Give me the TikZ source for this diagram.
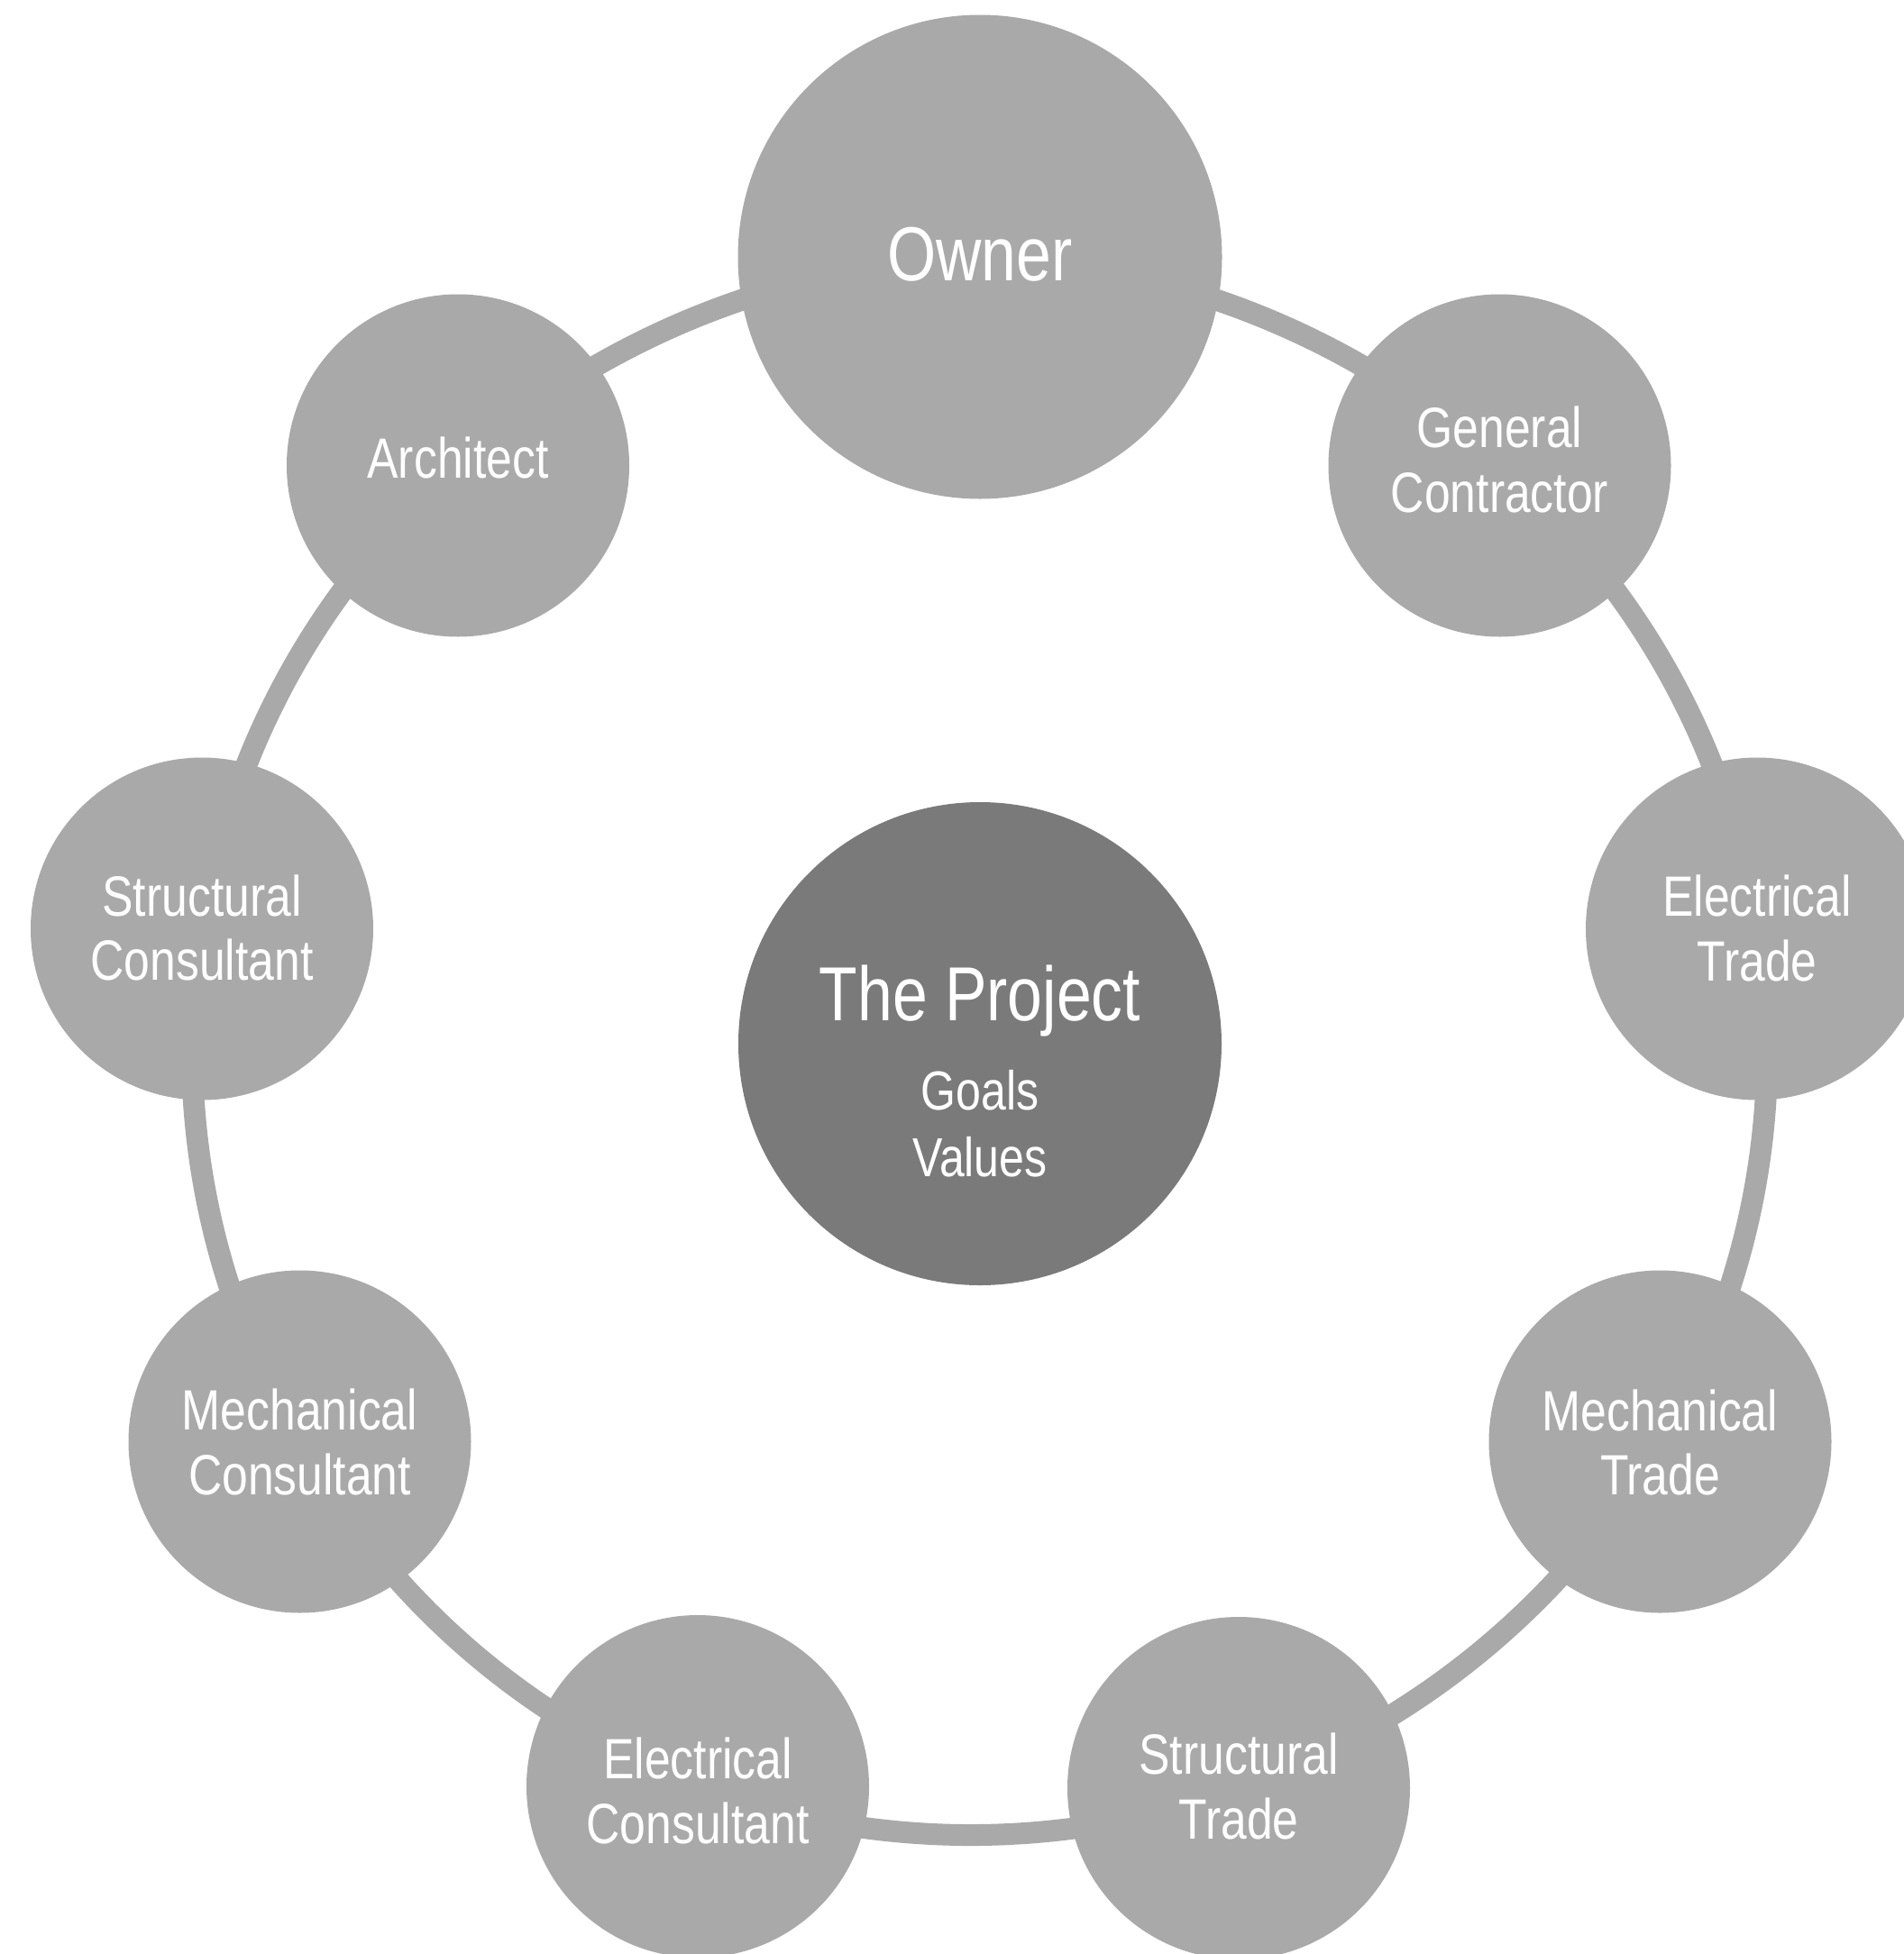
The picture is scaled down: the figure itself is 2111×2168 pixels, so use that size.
\documentclass[tikz,border=0pt]{standalone}
\usepackage{fontspec}
\setmainfont{Liberation Sans}[FakeStretch=0.82]
\usetikzlibrary{backgrounds,calc}
\definecolor{membergray}{HTML}{A9A9A9}
\definecolor{hubgray}{HTML}{7A7A7A}

\begin{document}
\begin{tikzpicture}[x=0.5pt,y=0.5pt,
  member/.style={circle,fill=membergray,draw=none,minimum size=190pt,inner sep=0pt},
  ownercircle/.style={member,minimum size=268.5pt},
  hub/.style={circle,fill=hubgray,draw=none,minimum size=268pt,inner sep=0pt},
  lbl/.style={anchor=base,text=white,inner sep=0pt,font=\fontsize{31.5}{36}\selectfont},
  biglbl/.style={lbl,font=\fontsize{42.5}{48}\selectfont},
  sublbl/.style={lbl,font=\fontsize{30.5}{36}\selectfont},
  link/.style={draw=membergray,line width=12pt,bend left=20,looseness=0.88}]

\useasboundingbox (0,0) rectangle (2111,-2168);

% circles of the cycle
\node[ownercircle] (owner) at (1087,-285) {};
\node[member] (arch) at (508,-516.5) {};
\node[member] (gc)   at (1663.5,-516.5) {};
\node[member] (sc)   at (224,-1030.5) {};
\node[member] (et)   at (1949,-1030.5) {};
\node[member] (mc)   at (332.5,-1599.5) {};
\node[member] (mt)   at (1841.5,-1599.5) {};
\node[member] (ec)   at (774,-1982) {};
\node[member] (st)   at (1374,-1984) {};
\node[hub]    (hub)  at (1087,-1158) {};

% labels
\node[biglbl] (owner-a) at ($(owner.center)+(0,-26)$) {Owner};
\node[lbl] (arch-a) at ($(arch.center)+(0,-14)$) {Architect};
\node[lbl] (gc-a) at ($(gc.center)+(0,20)$) {General};
\node[lbl] (gc-b) at ($(gc.center)+(0,-52)$) {Contractor};
\node[lbl] (sc-a) at ($(sc.center)+(0,14)$) {Structural};
\node[lbl] (sc-b) at ($(sc.center)+(0,-57)$) {Consultant};
\node[lbl] (et-a) at ($(et.center)+(0,14)$) {Electrical};
\node[lbl] (et-b) at ($(et.center)+(0,-58)$) {Trade};
\node[lbl] (mc-a) at ($(mc.center)+(0,13)$) {Mechanical};
\node[lbl] (mc-b) at ($(mc.center)+(0,-59)$) {Consultant};
\node[lbl] (mt-a) at ($(mt.center)+(0,12)$) {Mechanical};
\node[lbl] (mt-b) at ($(mt.center)+(0,-59)$) {Trade};
\node[lbl] (ec-a) at ($(ec.center)+(0,9)$) {Electrical};
\node[lbl] (ec-b) at ($(ec.center)+(0,-63)$) {Consultant};
\node[lbl] (st-a) at ($(st.center)+(0,16)$) {Structural};
\node[lbl] (st-b) at ($(st.center)+(0,-56)$) {Trade};
\node[biglbl] (hub-a) at ($(hub.center)+(0,26)$) {The Project};
\node[sublbl] (hub-b) at ($(hub.center)+(0,-73.5)$) {Goals};
\node[sublbl] (hub-c) at ($(hub.center)+(0,-147.5)$) {Values};

% ring of connectors, behind the circles
\begin{scope}[on background layer]
  \fill[white] (0,0) rectangle (2111,-2168);
  \draw[link] (owner.center) to (gc.center);
  \draw[link] (gc.center) to (et.center);
  \draw[link] (et.center) to (mt.center);
  \draw[link] (mt.center) to (st.center);
  \draw[link] (st.center) to (ec.center);
  \draw[link] (ec.center) to (mc.center);
  \draw[link] (mc.center) to (sc.center);
  \draw[link] (sc.center) to (arch.center);
  \draw[link] (arch.center) to (owner.center);
\end{scope}
\end{tikzpicture}
\end{document}
